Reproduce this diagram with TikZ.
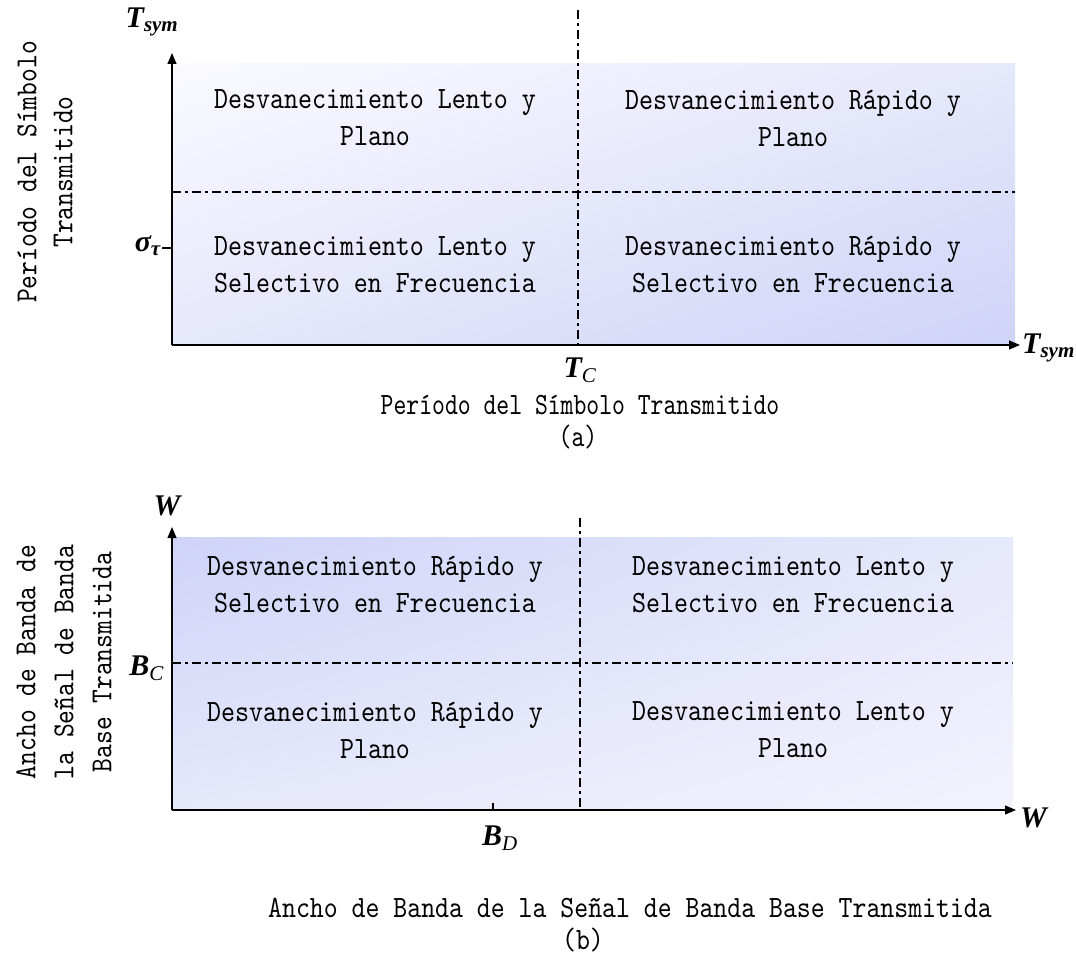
\documentclass[tikz,border=0pt]{standalone}
\usepackage{fontspec}
\setmainfont{Liberation Serif}
\newfontfamily\regfont[Extension=.otf,FakeStretch=0.86]{lmmono10-regular}
\newfontfamily\capafont[Extension=.otf,FakeStretch=0.79]{lmmono10-regular}
\newfontfamily\capbfont[Extension=.otf,FakeStretch=0.855]{lmmono10-regular}
\usetikzlibrary{arrows.meta,shadings}
\definecolor{shA}{HTML}{FAFAFF}
\definecolor{shB}{HTML}{E6E8FB}
\definecolor{shC}{HTML}{CFD3F7}
\definecolor{shD}{HTML}{F2F3FD}
\newcommand{\thinsub}[1]{\textsubscript{\mdseries #1}}
\begin{document}
\begin{tikzpicture}[x=1pt,y=-1pt,
  axis/.style={line width=1.2pt,-{Triangle[length=11pt,width=9pt]}},
  divline/.style={line width=1.2pt,dash pattern=on 9pt off 4pt on 3pt off 4pt},
  tickline/.style={line width=1.2pt},
  region/.style={font=\regfont\fontsize{31}{37}\selectfont,align=center,inner sep=0pt},
  captiona/.style={font=\capafont\fontsize{31}{36}\selectfont,inner sep=0pt},
  captionb/.style={font=\capbfont\fontsize{31}{36}\selectfont,inner sep=0pt},
  sidelabel/.style={align=center,rotate=90,inner sep=0pt},
  axlabel/.style={font=\fontsize{30}{32}\selectfont\bfseries\itshape,inner sep=0pt}
]
\useasboundingbox (0,0) rectangle (1076,958);
% ---------- panel (a) ----------
\shade[upper left=shA, upper right=shB, lower left=shB, lower right=shC] (172,64) rectangle (1015,345);
\coordinate (o1) at (172,345);
\coordinate (ytip1) at (172,53);
\coordinate (xtip1) at (1020,345);
\coordinate (vtop1) at (578,10);
\coordinate (vbot1) at (578,345);
\coordinate (hl1) at (172,192);
\coordinate (hr1) at (1015,192);
\coordinate (tka) at (162,248);
\coordinate (tkb) at (172,248);
\draw[divline] (vtop1) -- (vbot1);
\draw[divline] (hl1) -- (hr1);
\draw[axis] (o1) -- (ytip1);
\draw[axis] (o1) -- (xtip1);
\draw[tickline] (tka) -- (tkb);
\node[axlabel] (tsymy) at (152,22) {T\textsubscript{sym}};
\node[axlabel,anchor=west] (tsymx) at (1022,348) {T\textsubscript{sym}};
\node[axlabel,anchor=east] (sig) at (161,246) {σ\textsubscript{τ}};
\node[axlabel] (tc) at (580,370) {T\thinsub{C}};
\node[region] (a11) at (375,118) {Desvanecimiento Lento y\\Plano};
\node[region] (a12) at (793,118) {Desvanecimiento Rápido y\\Plano};
\node[region] (a21) at (375,265) {Desvanecimiento Lento y\\Selectivo en Frecuencia};
\node[region] (a22) at (793,265) {Desvanecimiento Rápido y\\Selectivo en Frecuencia};
\node[sidelabel,font=\regfont\fontsize{30.5}{36}\selectfont] (ya) at (45,172) {Período del Símbolo\\Transmitido};
\node[captiona] (capa) at (580,405) {Período del Símbolo Transmitido};
\node[captiona] (la) at (578,437) {(a)};
% ---------- panel (b) ----------
\shade[upper left=shC, upper right=shB, lower left=shB, lower right=shD] (172,537) rectangle (1013,810);
\coordinate (o2) at (172,810);
\coordinate (ytip2) at (172,527);
\coordinate (xtip2) at (1016,810);
\coordinate (vtop2) at (580,518);
\coordinate (vbot2) at (580,810);
\coordinate (hl2) at (172,663);
\coordinate (hr2) at (1013,663);
\coordinate (tbd1) at (493,803);
\coordinate (tbd2) at (493,810);
\draw[divline] (vtop2) -- (vbot2);
\draw[divline] (hl2) -- (hr2);
\draw[axis] (o2) -- (ytip2);
\draw[axis] (o2) -- (xtip2);
\draw[tickline] (tbd1) -- (tbd2);
\node[axlabel] (wy) at (167,506) {W};
\node[axlabel,anchor=west] (wx) at (1020,818) {W};
\node[axlabel,anchor=east] (bc) at (164,668) {B\thinsub{C}};
\node[axlabel] (bd) at (500,838) {B\thinsub{D}};
\node[region] (b11) at (375,585) {Desvanecimiento Rápido y\\Selectivo en Frecuencia};
\node[region] (b12) at (793,585) {Desvanecimiento Lento y\\Selectivo en Frecuencia};
\node[region] (b21) at (375,730) {Desvanecimiento Rápido y\\Plano};
\node[region] (b22) at (793,730) {Desvanecimiento Lento y\\Plano};
\node[sidelabel,font=\regfont\fontsize{30.5}{38}\selectfont] (yb) at (64,662) {Ancho de Banda de\\la Señal de Banda\\Base Transmitida};
\node[captionb] (capb) at (630,908) {Ancho de Banda de la Señal de Banda Base Transmitida};
\node[captionb] (lb) at (583,940) {(b)};
\end{tikzpicture}
\end{document}
